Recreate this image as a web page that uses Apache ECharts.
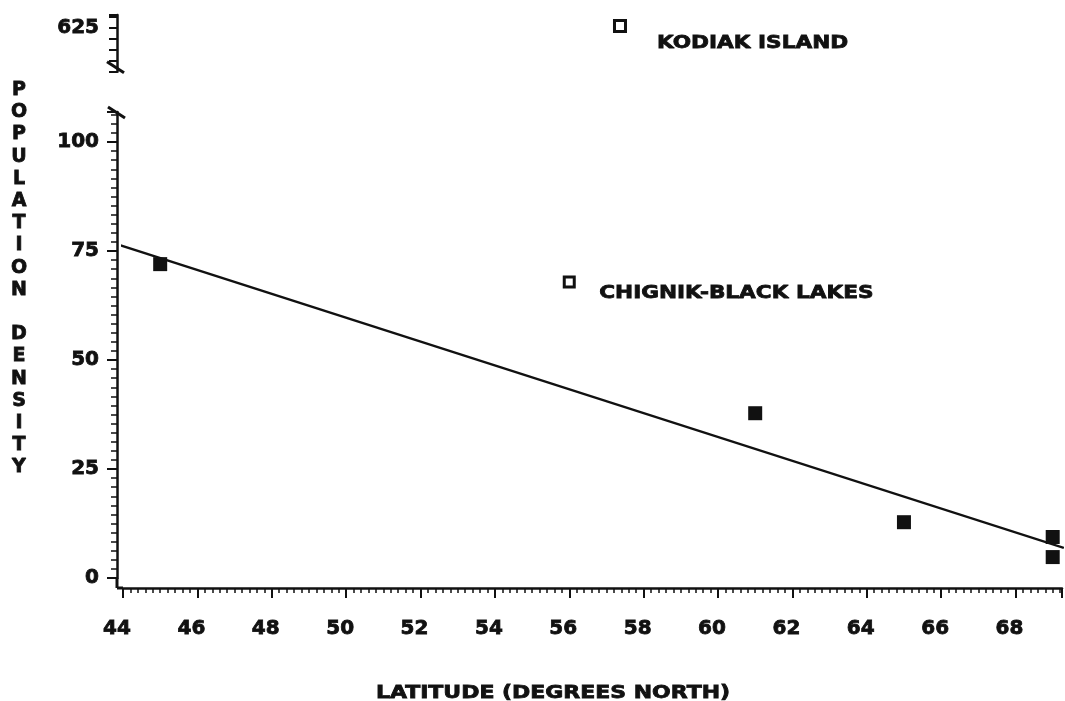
<!DOCTYPE html>
<html><head><meta charset="utf-8">
<script src="https://cdn.jsdelivr.net/npm/echarts@6/dist/echarts.min.js"></script>
<style>html,body{margin:0;padding:0;background:#fff}#c{width:1065px;height:701px}</style>
</head><body><div id="c"></div>
<script>
// ---- data ----
const latitudes = [45, 61, 65, 69, 69];
const densities = [72, 37.8, 12.8, 9.4, 4.8];
const outlierNames = ['KODIAK ISLAND', 'CHIGNIK-BLACK LAKES'];
const outlierLat = [57.35, 56];
const outlierDensity = [625.5, 67.9];
const fitLat = [43.83, 69.3];
const fitDensity = [76.6, 6.9];
const xTickLabels = [44, 46, 48, 50, 52, 54, 56, 58, 60, 62, 64, 66, 68];
const yTickLabels = [0, 25, 50, 75, 100];
const yBreakLabel = [625];

const FONT = 'DejaVu Sans';
const INK = '#111';
const X_MIN = 44, X_MAX = 69.25;
const Y_MAX_LOW = 106.9;
const UP_MIN = 615, UP_MAX = 628;

const chart = echarts.init(document.getElementById('c'), null, {renderer: 'canvas'});

const labelStyle = {color: INK, fontFamily: FONT, fontWeight: 'bold', fontSize: 20,
  textBorderColor: INK, textBorderWidth: 0.8};

const baseY = {
  type: 'value', offset: 6, splitLine: {show: false},
  axisLine: {show: true, lineStyle: {color: INK, width: 2.5}},
  axisTick: {show: true, inside: false, length: 10, lineStyle: {color: INK, width: 2}},
  axisLabel: Object.assign({margin: 18}, labelStyle)
};

const option = {
  animation: false,
  backgroundColor: '#fff',
  grid: [
    {left: 123, right: 2, top: 112, bottom: 123, containLabel: false},
    {left: 123, right: 2, top: 15, height: (UP_MAX - UP_MIN) * 4.36, containLabel: false}
  ],
  xAxis: [
    {
      type: 'value', gridIndex: 0, min: X_MIN, max: X_MAX, interval: 2, offset: 10,
      splitLine: {show: false},
      axisLine: {show: true, onZero: false, lineStyle: {color: INK, width: 2.5}},
      axisTick: {show: true, inside: false, length: 10, lineStyle: {color: INK, width: 2}},
      minorTick: {show: true, splitNumber: 10, length: 5, lineStyle: {color: INK, width: 1.5}},
      axisLabel: Object.assign({}, labelStyle, {
        margin: 31,
        padding: [0, 12, 0, 0],
        formatter: v => xTickLabels.indexOf(v) >= 0 ? String(v) : ''
      })
    },
    {type: 'value', gridIndex: 1, min: X_MIN, max: X_MAX, show: false}
  ],
  yAxis: [
    Object.assign({}, baseY, {
      gridIndex: 0, min: 0, max: Y_MAX_LOW, interval: 25,
      minorTick: {show: true, splitNumber: 12, length: 6, lineStyle: {color: INK, width: 1.5}},
      axisLabel: Object.assign({}, baseY.axisLabel, {
        formatter: v => yTickLabels.indexOf(v) >= 0 ? String(v) : ''
      })
    }),
    Object.assign({}, baseY, {
      gridIndex: 1, min: UP_MIN, max: UP_MAX, interval: 2.5,
      axisTick: {show: true, inside: false, length: 8, lineStyle: {color: INK, width: 2}},
      axisLabel: Object.assign({}, baseY.axisLabel, {
        formatter: v => yBreakLabel.indexOf(v) >= 0 ? String(v) : ''
      })
    })
  ],
  series: [
    {
      type: 'line', xAxisIndex: 0, yAxisIndex: 0, clip: false, showSymbol: false,
      lineStyle: {color: INK, width: 2.5}, z: 3,
      data: fitLat.map((x, i) => [x, fitDensity[i]])
    },
    {
      type: 'scatter', xAxisIndex: 0, yAxisIndex: 0, symbol: 'rect', symbolSize: 14,
      itemStyle: {color: INK, opacity: 1}, z: 4,
      data: latitudes.map((x, i) => [x, densities[i]])
    },
    {
      type: 'scatter', xAxisIndex: 0, yAxisIndex: 0, symbol: 'rect', symbolSize: 10,
      itemStyle: {color: '#fff', borderColor: INK, borderWidth: 3, opacity: 1}, z: 4,
      data: [[outlierLat[1], outlierDensity[1]]]
    },
    {
      type: 'scatter', xAxisIndex: 1, yAxisIndex: 1, symbol: 'rect', symbolSize: 11,
      itemStyle: {color: '#fff', borderColor: INK, borderWidth: 3, opacity: 1}, z: 4,
      data: [[outlierLat[0], outlierDensity[0]]]
    }
  ]
};
chart.setOption(option);

function txt(id, text, x, y, align, vAlign, scaleX, size, lineHeight) {
  const style = {
    text: text, fill: INK, stroke: INK, lineWidth: 0.8,
    fontFamily: FONT, fontWeight: 'bold', fontSize: size,
    align: align, textAlign: align, verticalAlign: vAlign, textVerticalAlign: vAlign
  };
  if (lineHeight) style.lineHeight = lineHeight;
  return {type: 'text', id: id, x: x, y: y, scaleX: scaleX, z: 10, style: style};
}

const p0 = chart.convertToPixel({xAxisIndex: 0, yAxisIndex: 0}, [X_MIN, 0]);
const pTop = chart.convertToPixel({xAxisIndex: 0, yAxisIndex: 0}, [X_MIN, Y_MAX_LOW]);
const pUp = chart.convertToPixel({xAxisIndex: 1, yAxisIndex: 1}, [X_MIN, UP_MIN]);
const kod = chart.convertToPixel({xAxisIndex: 1, yAxisIndex: 1}, [outlierLat[0], outlierDensity[0]]);
const chg = chart.convertToPixel({xAxisIndex: 0, yAxisIndex: 0}, [outlierLat[1], outlierDensity[1]]);
const ax = p0[0] - 6, by = p0[1] + 10;
const ln = (id, x1, y1, x2, y2) => ({type: 'line', id: id, z: 10,
  shape: {x1: x1, y1: y1, x2: x2, y2: y2}, style: {stroke: INK, lineWidth: 3}});

const yTitle = 'POPULATION DENSITY'.split('').map(c => c === ' ' ? '' : c).join('\n');

chart.setOption({
  graphic: [
    ln('cv', ax, p0[1], ax, by),
    ln('ch', ax, by, p0[0], by),
    ln('s1', ax - 10, pUp[1] - 10, ax + 7, pUp[1] + 1),
    ln('s2', ax - 9, pTop[1] - 5, ax + 8, pTop[1] + 6),
    txt('t1', outlierNames[0], kod[0] + 37, kod[1] + 17, 'left', 'middle', 1.2, 18),
    txt('t2', outlierNames[1], chg[0] + 30, chg[1] + 11, 'left', 'middle', 1.2, 18),
    txt('tx', 'LATITUDE (DEGREES NORTH)', 553, 693, 'center', 'middle', 1.22, 18),
    txt('ty', yTitle, 19, 79, 'center', 'top', 1, 19, 22.2)
  ]
});
</script></body></html>
